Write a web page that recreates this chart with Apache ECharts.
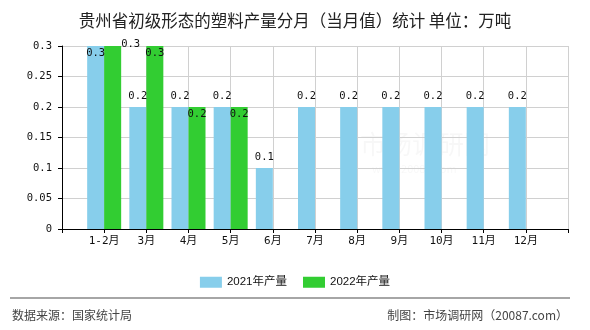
<!DOCTYPE html>
<html>
<head>
<meta charset="utf-8">
<script src="https://cdn.jsdelivr.net/npm/echarts@6/dist/echarts.min.js"></script>
<style>html,body{margin:0;padding:0;background:#fff}#c{width:590px;height:330px}</style>
</head>
<body>
<div id="c"></div>
<script>
var titleText = '贵州省初级形态的塑料产量分月（当月值）统计 单位：万吨';
var categories = ['1-2月','3月','4月','5月','6月','7月','8月','9月','10月','11月','12月'];
var series2021 = [0.3,0.2,0.2,0.2,0.1,0.2,0.2,0.2,0.2,0.2,0.2];
var series2022 = [0.3,0.3,0.2,0.2,null,null,null,null,null,null,null];
var seriesNames = ['2021年产量','2022年产量'];
var yTicks = [0,0.05,0.1,0.15,0.2,0.25,0.3];
var sourceText = '数据来源：国家统计局';
var makerText = '制图：市场调研网（20087.com）';

var monoFont = "'DejaVu Sans Mono','Noto Sans CJK SC',monospace";
var cjkFont = "'Noto Sans CJK SC','Noto Sans',sans-serif";

var cats = [''].concat(categories).concat(['']);
function pad(arr){ return [null].concat(arr.map(function(v){return v==null?'-':v;})).concat([null]); }

var d2021 = pad(series2021).map(function(v,i){
  if (v==null || v==='-') return v;
  var it = {value:v};
  if (i===1) it.label = {position:'insideTop', distance:2};
  return it;
});
var d2022 = pad(series2022).map(function(v,i){
  if (v==null || v==='-') return v;
  var it = {value:v, label:{position:'insideTop', distance:2}};
  if (i===1) it.label = {position:[17,-7], align:'left', verticalAlign:'top'};
  return it;
});

var chart = echarts.init(document.getElementById('c'), null, {renderer:'canvas'});
chart.setOption({
  animation:false,
  backgroundColor:'#fff',
  title:{text:titleText,left:'center',top:7,textStyle:{fontFamily:cjkFont,fontSize:16.5,fontWeight:'normal',color:'#222'}},
  legend:{bottom:37,left:'center',itemWidth:22,itemHeight:11,itemGap:16,icon:'rect',
    textStyle:{fontFamily:"'Liberation Sans','Noto Sans CJK SC',sans-serif",fontSize:11.5,color:'#111'},
    data:seriesNames},
  grid:{left:62,right:22,top:46,bottom:101,containLabel:false},
  xAxis:{type:'category',data:cats,boundaryGap:false,
    axisLine:{lineStyle:{color:'#000',width:1}},
    axisTick:{show:true,length:4,lineStyle:{color:'#000'},interval:0},
    axisLabel:{interval:0,margin:7,color:'#111',fontFamily:monoFont,fontSize:11},
    splitLine:{show:true,interval:0,lineStyle:{color:'#d0d0d0'}}},
  yAxis:{type:'value',min:yTicks[0],max:yTicks[yTicks.length-1],interval:0.05,
    axisLine:{show:true,lineStyle:{color:'#000',width:1}},
    axisTick:{show:true,length:4,lineStyle:{color:'#000'}},
    axisLabel:{margin:10,color:'#111',fontFamily:monoFont,fontSize:10.5},
    splitLine:{show:true,lineStyle:{color:'#d0d0d0'}}},
  series:[
    {name:seriesNames[0],type:'bar',data:d2021,barWidth:17,barGap:'0%',
     itemStyle:{color:'#87CEEB'},
     label:{show:true,position:'top',distance:5,color:'#111',fontFamily:monoFont,fontSize:10.5}},
    {name:seriesNames[1],type:'bar',data:d2022,barWidth:17,barGap:'0%',
     itemStyle:{color:'#32CD32'},
     label:{show:true,position:'top',distance:5,color:'#111',fontFamily:monoFont,fontSize:10.5}}
  ],
  graphic:[
    {type:'text',left:360,top:131,silent:true,z:-1,
     style:{text:'市场调研网',font:'26px '+cjkFont,fill:'rgba(0,0,0,0.03)'}},
    {type:'text',left:372,top:163,silent:true,z:-1,
     style:{text:'www.20087.com',font:'11px '+cjkFont,fill:'rgba(0,0,0,0.03)'}},
    {type:'line',shape:{x1:10,y1:298,x2:570,y2:298},style:{stroke:'#888',lineWidth:1.5}},
    {type:'text',left:12,top:309,style:{text:sourceText,font:'12px '+cjkFont,fill:'#444'}},
    {type:'text',right:22,top:309,style:{text:makerText,font:'12px '+cjkFont,fill:'#444'}}
  ]
});
</script>
</body>
</html>
